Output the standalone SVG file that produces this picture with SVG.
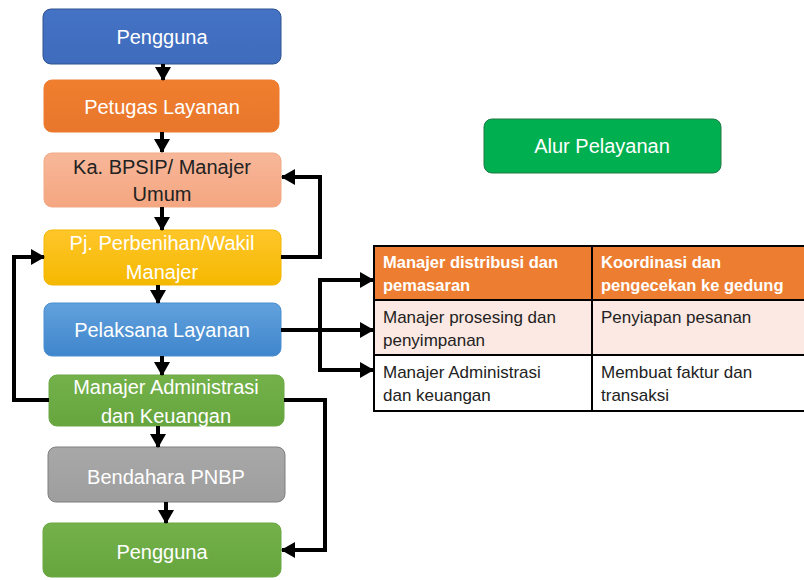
<svg xmlns="http://www.w3.org/2000/svg" width="804" height="580" viewBox="0 0 804 580">
<defs>
<marker id="ah" markerUnits="userSpaceOnUse" markerWidth="14" markerHeight="16" refX="13" refY="8" orient="auto">
<path d="M0,0 L14,8 L0,16 Z" fill="#000"/>
</marker>
<linearGradient id="gBlue" x1="0" y1="0" x2="0" y2="1"><stop offset="0" stop-color="#4472C4"/><stop offset="1" stop-color="#3F6CBD"/></linearGradient>
<linearGradient id="gOrange" x1="0" y1="0" x2="0" y2="1"><stop offset="0" stop-color="#F07E2E"/><stop offset="1" stop-color="#E8772C"/></linearGradient>
<linearGradient id="gSalmon" x1="0" y1="0" x2="0" y2="1"><stop offset="0" stop-color="#F8B79A"/><stop offset="1" stop-color="#F4A680"/></linearGradient>
<linearGradient id="gYellow" x1="0" y1="0" x2="0" y2="1"><stop offset="0" stop-color="#FFC62A"/><stop offset="1" stop-color="#F5B800"/></linearGradient>
<linearGradient id="gSky" x1="0" y1="0" x2="0" y2="1"><stop offset="0" stop-color="#62A1DD"/><stop offset="1" stop-color="#3F86CC"/></linearGradient>
<linearGradient id="gGreen" x1="0" y1="0" x2="0" y2="1"><stop offset="0" stop-color="#74B14A"/><stop offset="1" stop-color="#66A53E"/></linearGradient>
<linearGradient id="gGray" x1="0" y1="0" x2="0" y2="1"><stop offset="0" stop-color="#A8A8A8"/><stop offset="1" stop-color="#9E9E9E"/></linearGradient>
</defs>
<style>
.box{stroke-width:1}
.t{font-family:"Liberation Sans",Arial,sans-serif;font-size:20px;text-anchor:middle;fill:#fff}
.dark{fill:#222}
.tb{font-family:"Liberation Sans",Arial,sans-serif;font-size:17px;fill:#222}
.th{font-family:"Liberation Sans",Arial,sans-serif;font-size:16.5px;font-weight:bold;fill:#fff}
.c{fill:none;stroke:#000;stroke-width:4}
.ca{fill:none;stroke:#000;stroke-width:4;marker-end:url(#ah)}
.grid{fill:none;stroke:#000;stroke-width:2}
</style>

<g id="n1">
<rect class="box" x="43" y="9" width="238" height="55" rx="8" fill="url(#gBlue)" stroke="#2F528F"/>
<text class="t" x="162" y="44">Pengguna</text>
</g>
<g id="n2">
<rect class="box" x="44" y="80" width="235" height="52" rx="8" fill="url(#gOrange)" stroke="#ED7D31"/>
<text class="t" x="162" y="114">Petugas Layanan</text>
</g>
<g id="n3">
<rect class="box" x="44" y="153" width="237" height="54" rx="8" fill="url(#gSalmon)" stroke="#F1A985"/>
<text class="t dark" x="162" y="174">Ka. BPSIP/ Manajer</text>
<text class="t dark" x="162" y="201">Umum</text>
</g>
<g id="n4">
<rect class="box" x="44" y="230" width="237" height="55" rx="8" fill="url(#gYellow)" stroke="#F2B700"/>
<text class="t" x="162" y="250">Pj. Perbenihan/Wakil</text>
<text class="t" x="162" y="279">Manajer</text>
</g>
<g id="n5">
<rect class="box" x="44" y="303" width="237" height="53" rx="8" fill="url(#gSky)" stroke="#4A8ED0"/>
<text class="t" x="162" y="337">Pelaksana Layanan</text>
</g>
<g id="n6">
<rect class="box" x="49" y="375" width="235" height="51" rx="8" fill="url(#gGreen)" stroke="#6AA842"/>
<text class="t" x="166" y="394">Manajer Administrasi</text>
<text class="t" x="166" y="423">dan Keuangan</text>
</g>
<g id="n7">
<rect class="box" x="48" y="447" width="237" height="55" rx="8" fill="url(#gGray)" stroke="#7F7F7F"/>
<text class="t" x="166" y="484">Bendahara PNBP</text>
</g>
<g id="n8">
<rect class="box" x="43" y="523" width="238" height="54" rx="8" fill="url(#gGreen)" stroke="#6AA842"/>
<text class="t" x="162" y="559">Pengguna</text>
</g>
<g id="n9">
<rect class="box" x="484" y="119" width="237" height="54" rx="8" fill="#00B050" stroke="#1E7A45"/>
<text class="t" x="602" y="153">Alur Pelayanan</text>
</g>

<g id="table">
<rect x="374" y="246" width="432" height="54" fill="#ED7D31"/>
<rect x="374" y="300" width="432" height="55" fill="#FCE9E3"/>
<rect x="374" y="355" width="432" height="56" fill="#fff"/>
<rect class="grid" x="374" y="246" width="432" height="165"/>
<line class="grid" x1="374" y1="300" x2="806" y2="300"/>
<line class="grid" x1="374" y1="355" x2="806" y2="355"/>
<line class="grid" x1="592" y1="246" x2="592" y2="411"/>
<text class="th" x="383" y="268">Manajer distribusi dan</text>
<text class="th" x="383" y="291">pemasaran</text>
<text class="th" x="601" y="268">Koordinasi dan</text>
<text class="th" x="601" y="291">pengecekan ke gedung</text>
<text class="tb" x="383" y="323">Manajer prosesing dan</text>
<text class="tb" x="383" y="346">penyimpanan</text>
<text class="tb" x="601" y="323">Penyiapan pesanan</text>
<text class="tb" x="383" y="378">Manajer Administrasi</text>
<text class="tb" x="383" y="401">dan keuangan</text>
<text class="tb" x="601" y="378">Membuat faktur dan</text>
<text class="tb" x="601" y="401">transaksi</text>
</g>

<g id="connectors">
<line class="ca" x1="163" y1="64" x2="163" y2="80"/>
<line class="ca" x1="162" y1="132" x2="162" y2="152"/>
<line class="ca" x1="162" y1="207" x2="162" y2="230"/>
<line class="ca" x1="158" y1="285" x2="158" y2="303"/>
<line class="ca" x1="162" y1="356" x2="162" y2="375"/>
<line class="ca" x1="158" y1="426" x2="158" y2="447"/>
<line class="ca" x1="166" y1="502" x2="166" y2="523"/>
<polyline class="ca" points="281,257 320,257 320,177 282,177"/>
<polyline class="ca" points="49,400 14,400 14,257 44,257"/>
<polyline class="ca" points="284,400 325,400 325,550 282,550"/>
<line class="c" x1="281" y1="330" x2="320" y2="330"/>
<polyline class="ca" points="320,330 320,280 373,280"/>
<polyline class="ca" points="320,328 320,370 373,370"/>
<line class="ca" x1="320" y1="330" x2="373" y2="330"/>
</g>
</svg>
